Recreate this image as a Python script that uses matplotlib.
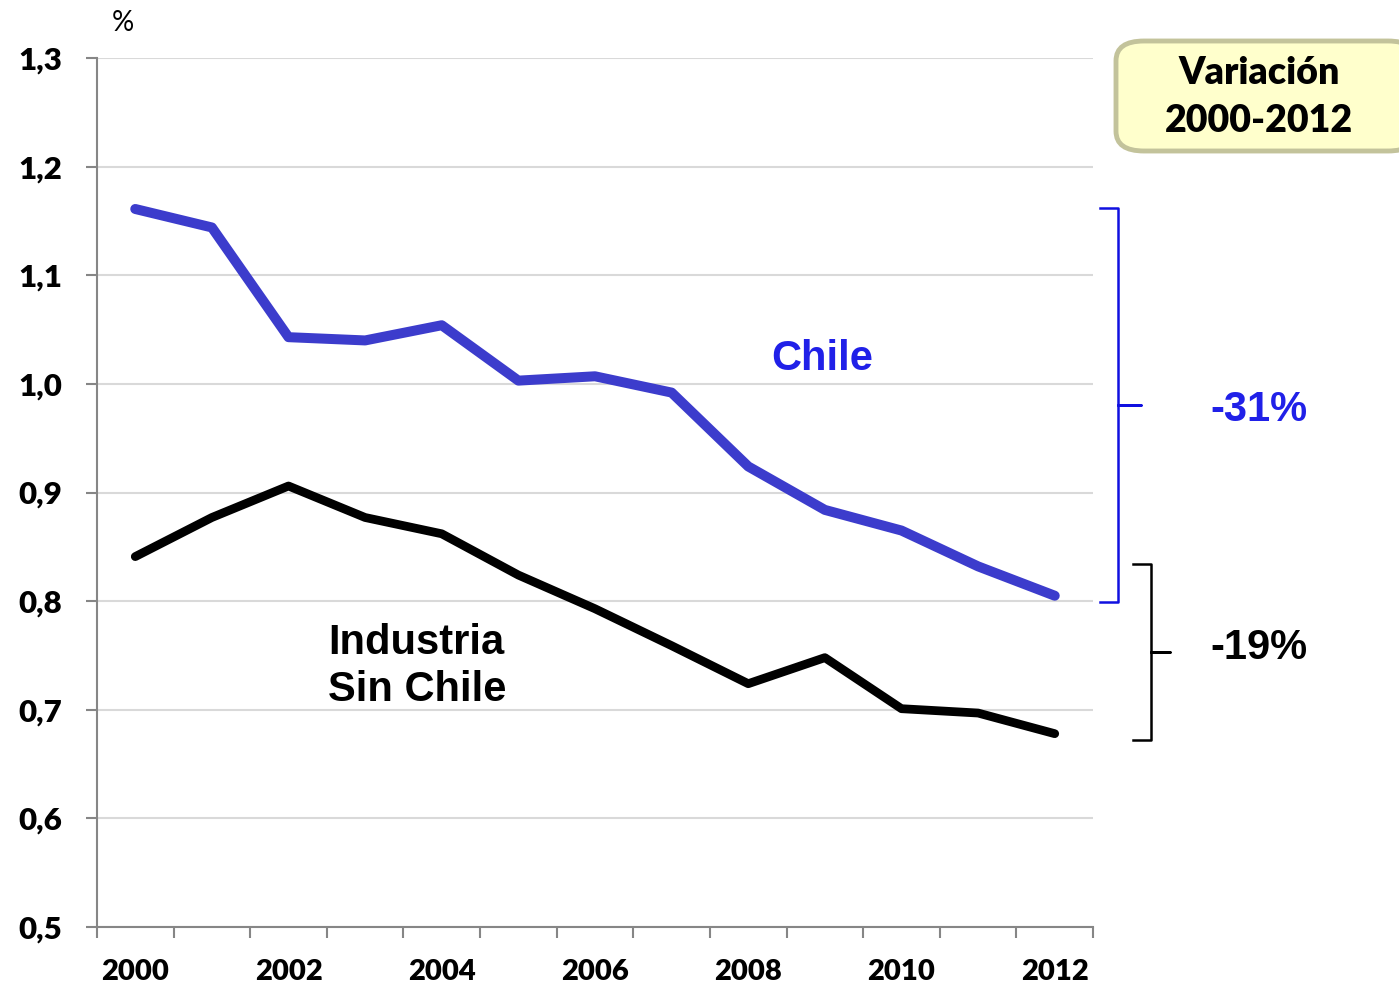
import numpy as np
import matplotlib.pyplot as plt
from matplotlib.patches import FancyBboxPatch

years = ["2000", "2001", "2002", "2003", "2004", "2005", "2006",
         "2007", "2008", "2009", "2010", "2011", "2012"]
chile = [1.161, 1.144, 1.043, 1.040, 1.054, 1.003, 1.007,
         0.992, 0.924, 0.884, 0.865, 0.832, 0.805]
industria = [0.841, 0.877, 0.906, 0.877, 0.862, 0.824, 0.793,
             0.759, 0.724, 0.748, 0.701, 0.697, 0.678]
yticks = [0.5, 0.6, 0.7, 0.8, 0.9, 1.0, 1.1, 1.2, 1.3]

fig = plt.figure(figsize=(13.99, 9.88), dpi=100)
ax = fig.add_axes([0.0693, 0.0617, 0.712, 0.8796])

x = np.arange(len(years))
ax.plot(x, chile, color="#3C3CCC", lw=7.2, solid_capstyle="round", zorder=3)
ax.plot(x, industria, color="black", lw=6.3, solid_capstyle="round", zorder=3)

ax.set_xlim(-0.5, len(years) - 0.5)
ax.set_ylim(0.5, 1.3)

# ejes
ax.set_yticks(yticks)
ax.set_yticklabels([("%.1f" % v).replace(".", ",") for v in yticks],
                   fontfamily="Lato", fontweight="heavy", fontsize=22.5)
ax.set_xticks(np.arange(-0.5, len(years)))
ax.set_xticklabels([])
ax.set_xticks(x[::2], minor=True)
ax.set_xticklabels(years[::2], minor=True, fontfamily="Lato",
                   fontweight="heavy", fontsize=21)
ax.tick_params(axis="y", length=8, width=1.5, color="#868686", pad=17)
ax.tick_params(axis="x", which="major", length=8, width=1.5, color="#868686")
ax.tick_params(axis="x", which="minor", length=0, pad=23)
for s in ["top", "right"]:
    ax.spines[s].set_visible(False)
for s in ["left", "bottom"]:
    ax.spines[s].set_color("#868686")
    ax.spines[s].set_linewidth(1.5)
ax.grid(axis="y", color="#D9D9D9", lw=1.5)
ax.set_axisbelow(True)

fig.text(123 / 1399, 1 - 23 / 988, "%", fontfamily="Lato", fontsize=20,
         ha="center", va="center")

# etiquetas de series
ax.text(8.96, 1.027, "Chile", color="#2020E8", fontfamily="Liberation Sans",
        fontweight="bold", fontsize=30, ha="center", va="center_baseline")
ax.text(2.52, 0.74, "Industria\nSin Chile", color="black",
        fontfamily="Liberation Sans", fontweight="bold", fontsize=30,
        ha="left", va="center", linespacing=1.22)


def llave(x0, x1, x2, ytop, ybot, color):
    ymid = (ytop + ybot) / 2
    xs = [x0, x1, x1, x2, x1, x1, x0]
    ys = [ytop, ytop, ymid, ymid, ymid, ybot, ybot]
    ax.plot(xs, ys, color=color, lw=1.8, clip_on=False,
            solid_joinstyle="round")


llave(12.59, 12.83, 13.12, 1.162, 0.799, "#1010E0")
llave(13.02, 13.26, 13.51, 0.834, 0.672, "black")

ax.text(14.67, 0.980, "-31%", color="#2020E8", fontfamily="Liberation Sans",
        fontweight="bold", fontsize=30, ha="center", va="center_baseline",
        clip_on=False)
ax.text(14.67, 0.761, "-19%", color="black", fontfamily="Liberation Sans",
        fontweight="bold", fontsize=30, ha="center", va="center_baseline",
        clip_on=False)

# recuadro
caja = FancyBboxPatch((1116 / 1399, 1 - 151 / 988), 300 / 1399, 110 / 988,
                      boxstyle="round,pad=0,rounding_size=0.02",
                      transform=fig.transFigure, facecolor="#FFFFCC",
                      edgecolor="#C3C39B", lw=3.5)
fig.patches.append(caja)
fig.text(1259 / 1399, 1 - 97 / 988, "Variación\n2000-2012",
         fontfamily="Lato", fontweight="heavy", fontsize=27, ha="center",
         va="center", linespacing=1.5)

fig.savefig("out.png", dpi=100)
